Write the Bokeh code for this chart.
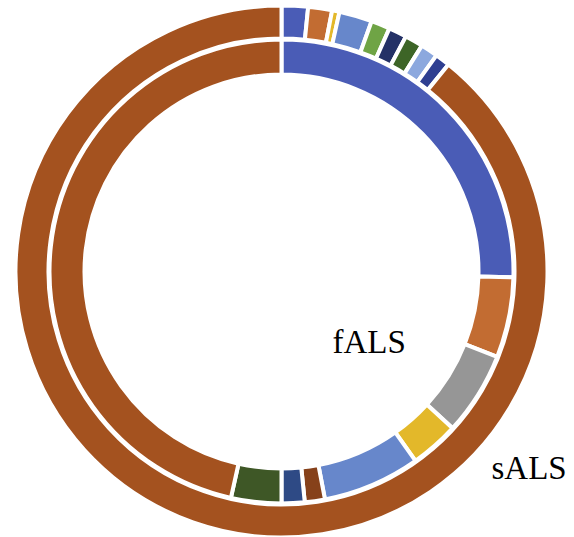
import math
from bokeh.plotting import figure
from bokeh.models import Range1d, ColumnDataSource
from bokeh.core.properties import value
from bokeh.embed import file_html
from bokeh.resources import INLINE

# ---- data (percent of each ring, clockwise from 12 o'clock) ----
fals_labels = ["f1", "f2", "f3", "f4", "f5", "f6", "f7", "f8", "other"]
fals_values = [25.4, 5.6, 5.8, 3.4, 6.8, 1.4, 1.6, 3.5, 46.5]
fals_colors = ["#4A5CB6", "#C26C32", "#969696", "#E3B82A", "#6787CB",
               "#86411A", "#2E4A85", "#3E5726", "#A4521F"]

sals_labels = ["s1", "s2", "s3", "s4", "s5", "s6", "s7", "s8", "s9", "other"]
sals_values = [1.6, 1.45, 0.45, 2.0, 1.15, 1.1, 1.1, 1.05, 0.9, 89.2]
sals_colors = ["#4A5CB6", "#C26C32", "#E3B82A", "#6787CB", "#6FA445",
               "#243166", "#3D6527", "#8CA8DE", "#2F3F91", "#A4521F"]

ring_names = ["fALS", "sALS"]

W, H = 574, 537
CX, CY = 281, H - 271


def wedges(vals):
    tot = sum(vals)
    starts, ends = [], []
    c = 0.0
    for v in vals:
        starts.append(math.pi / 2 - 2 * math.pi * c / tot)
        c += v
        ends.append(math.pi / 2 - 2 * math.pi * c / tot)
    return starts, ends


p = figure(width=W, height=H, output_backend="svg", toolbar_location=None,
           x_range=Range1d(0, W), y_range=Range1d(0, H), min_border=0)
p.axis.visible = False
p.grid.visible = False
p.outline_line_color = None
p.background_fill_color = "white"
p.border_fill_color = "white"

s0, e0 = wedges(fals_values)
src_in = ColumnDataSource(dict(start=s0, end=e0, color=fals_colors, label=fals_labels))
p.annular_wedge(x=CX, y=CY, inner_radius=197, outer_radius=232,
                start_angle="start", end_angle="end", direction="clock",
                fill_color="color", line_color="white", line_width=4, source=src_in)

s1, e1 = wedges(sals_values)
src_out = ColumnDataSource(dict(start=s1, end=e1, color=sals_colors, label=sals_labels))
p.annular_wedge(x=CX, y=CY, inner_radius=233, outer_radius=266,
                start_angle="start", end_angle="end", direction="clock",
                fill_color="color", line_color="white", line_width=4, source=src_out)

p.text(x=[332, 491], y=[H - 341, H - 467], text=ring_names,
       text_font=value("Liberation Serif"), text_font_size="33px",
       text_color="black", text_align="left", text_baseline="alphabetic")

open("out.html", "w").write(file_html(p, INLINE))
